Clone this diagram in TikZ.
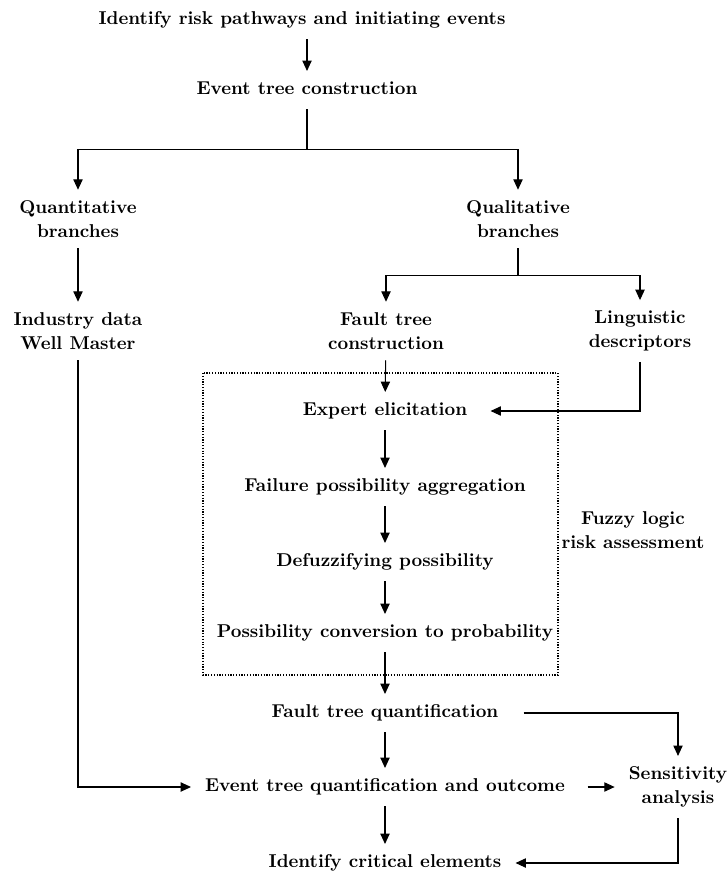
\documentclass[tikz,border=0pt]{standalone}
\usepackage{tikz}
\usetikzlibrary{arrows.meta,positioning}
\tikzset{
  ar/.style={-{Triangle[length=6pt,width=5.4pt]},line width=0.6pt},
  ln/.style={line width=0.6pt},
  lbl/.style={font=\bfseries\fontsize{10.74}{13.9}\selectfont,inner xsep=8pt,inner ysep=6pt,text height=7.5pt,text depth=2.1pt},
  lbltwo/.style={font=\bfseries\fontsize{10.74}{13.9}\selectfont,align=center,inner xsep=8pt,inner ysep=6pt},
  frame/.style={line width=0.7pt,dash pattern=on 0.7pt off 0.9pt}
}
\begin{document}
\begin{tikzpicture}[x=0.578pt,y=-0.578pt]
\useasboundingbox (0,0) rectangle (727,875);
\node[lbl] (risk) at (302,20) {Identify risk pathways and initiating events};
\node[lbl] (etc) at (307,90) {Event tree construction};
\node[lbltwo] (quant) at (78,219) {Quantitative\\branches};
\node[lbltwo] (qual) at (518,219) {Qualitative\\branches};
\node[lbltwo] (ind) at (78,331) {Industry data\\Well Master};
\node[lbltwo] (ftc) at (386,331) {Fault tree\\construction};
\node[lbltwo] (ling) at (640,331) {Linguistic\\descriptors};
\node[lbl] (expert) at (385,411) {Expert elicitation};
\node[lbl] (fail) at (385,487) {Failure possibility aggregation};
\node[lbl] (defuzz) at (385,562) {Defuzzifying possibility};
\node[lbl] (conv) at (385,633) {Possibility conversion to probability};
\node[lbltwo] (fuzzy) at (633,530) {Fuzzy logic\\risk assessment};
\node[lbl] (ftq) at (385,713) {Fault tree quantification};
\node[lbl] (etq) at (385,787) {Event tree quantification and outcome};
\node[lbltwo] (sens) at (678,787) {Sensitivity\\analysis};
\node[lbl] (crit) at (385,863) {Identify critical elements};
\draw[frame] (203,373) rectangle (558,675);
\draw[ar] (risk.south -| etc.north) -- (etc.north);
\path (etc.south) ++(0,40) coordinate (j1);
\path (qual.south) ++(0,27) coordinate (j2);
\draw[ln] (etc.south) -- (j1);
\draw[ar] (j1) -| (quant.north);
\draw[ar] (j1) -| (qual.north);
\draw[ar] (quant) -- (ind);
\draw[ln] (qual.south) -- (j2);
\draw[ar] (j2) -| (ftc.north);
\draw[ar] (j2) -| (ling.north);
\draw[ar] (ftc) -- (expert);
\draw[ar,shorten >=5.3pt] (ling.south) |- (expert.east);
\draw[ar] (expert) -- (fail);
\draw[ar] (fail) -- (defuzz);
\draw[ar] (defuzz) -- (conv);
\draw[ar] (conv) -- (ftq);
\draw[ar] (ftq) -- (etq);
\draw[ar] (etq) -- (crit);
\draw[ar,shorten <=6.4pt] (ftq.east) -| (sens.north);
\draw[ar,shorten <=5pt] (etq) -- (sens);
\draw[ar] (ind.south) |- (etq.west);
\draw[ar] (sens.south) |- (crit.east);
\end{tikzpicture}
\end{document}
